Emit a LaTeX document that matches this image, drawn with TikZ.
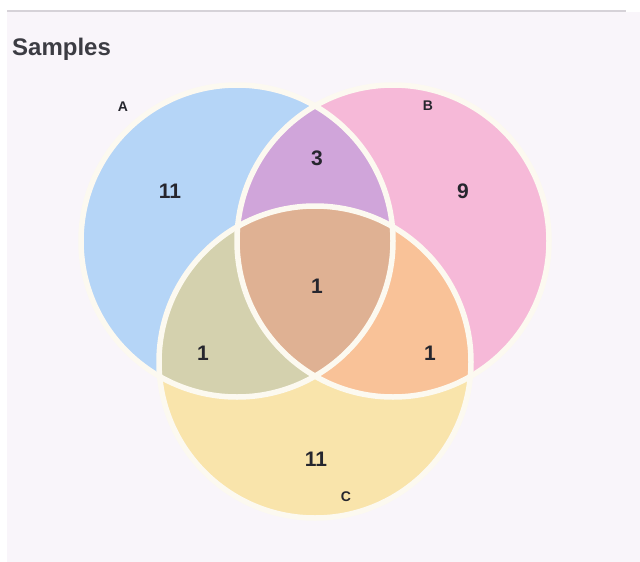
\documentclass[tikz,border=0pt]{standalone}
\usepackage{fontspec}
\setsansfont{Liberation Sans}
\usepackage{xcolor}
\usepackage{tikz}
\usetikzlibrary{positioning}
\definecolor{pagebg}{HTML}{F9F5FA}
\definecolor{rulegray}{HTML}{D6D2D8}
\definecolor{inkdark}{HTML}{26262E}
\definecolor{seam}{HTML}{FCF9F0}
\definecolor{setA}{HTML}{B5D5F7}
\definecolor{setB}{HTML}{F6B9D8}
\definecolor{setC}{HTML}{F9E4AB}
\definecolor{setAB}{HTML}{D0A5DA}
\definecolor{setAC}{HTML}{D4D1AE}
\definecolor{setBC}{HTML}{F9C298}
\definecolor{setABC}{HTML}{DFB193}
\tikzset{
  count/.style ={font=\sffamily\bfseries\fontsize{21}{24}\selectfont, text=inkdark, inner sep=0pt},
  setname/.style={font=\sffamily\bfseries\fontsize{14}{16}\selectfont, text=inkdark, inner sep=0pt},
  title/.style ={font=\sffamily\bfseries\fontsize{24}{28}\selectfont, text=inkdark!90, inner sep=0pt, anchor=base west},
  rim/.style   ={draw=seam, line width=5.5pt},
}

\begin{document}
\begin{tikzpicture}[x=1pt, y=-1pt]
  % --- page ---
  \fill[white] (0,0) rectangle (640,562);
  \fill[pagebg] (7,12) rectangle (640,562);
  \useasboundingbox (0,0) rectangle (640,562);
  \coordinate (r0) at (7,11); \coordinate (r1) at (626,11);
  \draw[rulegray, line width=1.2pt] (r0) -- (r1);
  \node[title] (ttl) at (12,55) {Samples};
  % --- set centres ---
  \coordinate (cA) at (237,241);
  \coordinate (cB) at (393,241);
  \coordinate (cC) at (315,362);
  % --- single sets ---
  \fill[setA] (cA) circle[radius=156pt];
  \fill[setB] (cB) circle[radius=156pt];
  \fill[setC] (cC) circle[radius=156pt];
  % --- pairwise overlaps ---
  \begin{scope}
    \clip (cA) circle[radius=156pt];
    \fill[setAB] (cB) circle[radius=156pt];
    \fill[setAC] (cC) circle[radius=156pt];
  \end{scope}
  \begin{scope}
    \clip (cB) circle[radius=156pt];
    \fill[setBC] (cC) circle[radius=156pt];
  \end{scope}
  % --- triple overlap ---
  \begin{scope}
    \clip (cA) circle[radius=156pt];
    \clip (cB) circle[radius=156pt];
    \fill[setABC] (cC) circle[radius=156pt];
  \end{scope}
  % --- seams ---
  \foreach \c in {cA,cB,cC} {\draw[rim] (\c) circle[radius=156pt];}
  % --- labels ---
  \node[setname] (lA) at (123,107) {A};
  \node[setname] (lB) at (428,106) {B};
  \node[setname] (lC) at (346,497) {C};
  \node[count] (nA)   at (170,191) {11};
  \node[count] (nB)   at (463,191) {9};
  \node[count] (nC)   at (316,459) {11};
  \node[count] (nAB)  at (317,158) {3};
  \node[count] (nAC)  at (203,353) {1};
  \node[count] (nBC)  at (430,353) {1};
  \node[count] (nABC) at (317,286) {1};
\end{tikzpicture}
\end{document}
